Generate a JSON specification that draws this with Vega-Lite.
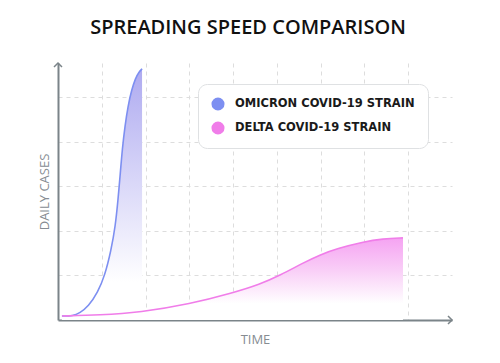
{
  "$schema": "https://vega.github.io/schema/vega-lite/v6.json",
  "width": 394,
  "height": 257,
  "autosize": {"type": "none"},
  "padding": {"left": 58, "top": 63, "right": 48, "bottom": 43},
  "background": "white",
  "title": {
    "text": "SPREADING SPEED COMPARISON",
    "font": "Open Sans",
    "fontSize": 20,
    "fontWeight": 600,
    "color": "#111111",
    "anchor": "middle",
    "dx": -7,
    "offset": 22
  },
  "config": {
    "view": {"stroke": null},
    "axis": {"labels": false, "ticks": false, "domainColor": "#7b8489", "domainWidth": 2, "gridColor": "#dddddd", "gridDash": [4, 4], "gridWidth": 1, "titleFont": "Open Sans", "titleFontWeight": 400, "titleFontSize": 13, "titleColor": "#868c92"}
  },
  "datasets": {
    "curves": [
      {"strain": "OMICRON COVID-19 STRAIN", "t": 0.09, "cases": 0.09},
      {"strain": "OMICRON COVID-19 STRAIN", "t": 0.34, "cases": 0.09},
      {"strain": "OMICRON COVID-19 STRAIN", "t": 0.5, "cases": 0.16},
      {"strain": "OMICRON COVID-19 STRAIN", "t": 0.69, "cases": 0.3},
      {"strain": "OMICRON COVID-19 STRAIN", "t": 0.91, "cases": 0.62},
      {"strain": "OMICRON COVID-19 STRAIN", "t": 1.07, "cases": 1.0},
      {"strain": "OMICRON COVID-19 STRAIN", "t": 1.21, "cases": 1.55},
      {"strain": "OMICRON COVID-19 STRAIN", "t": 1.31, "cases": 2.1},
      {"strain": "OMICRON COVID-19 STRAIN", "t": 1.37, "cases": 2.69},
      {"strain": "OMICRON COVID-19 STRAIN", "t": 1.42, "cases": 3.25},
      {"strain": "OMICRON COVID-19 STRAIN", "t": 1.47, "cases": 3.85},
      {"strain": "OMICRON COVID-19 STRAIN", "t": 1.53, "cases": 4.35},
      {"strain": "OMICRON COVID-19 STRAIN", "t": 1.6, "cases": 4.8},
      {"strain": "OMICRON COVID-19 STRAIN", "t": 1.68, "cases": 5.15},
      {"strain": "OMICRON COVID-19 STRAIN", "t": 1.77, "cases": 5.42},
      {"strain": "OMICRON COVID-19 STRAIN", "t": 1.85, "cases": 5.56},
      {"strain": "OMICRON COVID-19 STRAIN", "t": 1.92, "cases": 5.63},
      {"strain": "DELTA COVID-19 STRAIN", "t": 0.09, "cases": 0.09},
      {"strain": "DELTA COVID-19 STRAIN", "t": 0.96, "cases": 0.11},
      {"strain": "DELTA COVID-19 STRAIN", "t": 1.87, "cases": 0.17},
      {"strain": "DELTA COVID-19 STRAIN", "t": 3.02, "cases": 0.36},
      {"strain": "DELTA COVID-19 STRAIN", "t": 4.0, "cases": 0.61},
      {"strain": "DELTA COVID-19 STRAIN", "t": 4.61, "cases": 0.8},
      {"strain": "DELTA COVID-19 STRAIN", "t": 5.07, "cases": 1.0},
      {"strain": "DELTA COVID-19 STRAIN", "t": 5.6, "cases": 1.28},
      {"strain": "DELTA COVID-19 STRAIN", "t": 5.98, "cases": 1.46},
      {"strain": "DELTA COVID-19 STRAIN", "t": 6.37, "cases": 1.6},
      {"strain": "DELTA COVID-19 STRAIN", "t": 6.97, "cases": 1.75},
      {"strain": "DELTA COVID-19 STRAIN", "t": 7.42, "cases": 1.82},
      {"strain": "DELTA COVID-19 STRAIN", "t": 7.88, "cases": 1.84}
    ],
    "arrows": [
      {"dir": "up", "t": 0, "cases": 5.76},
      {"dir": "right", "t": 9, "cases": 0}
    ]
  },
  "layer": [
    {
      "data": {"name": "curves"},
      "transform": [{"filter": "datum.strain === 'OMICRON COVID-19 STRAIN'"}],
      "mark": {
        "type": "area",
        "interpolate": "basis",
        "fill": {"gradient": "linear", "x1": 0, "y1": 0, "x2": 0, "y2": 1, "stops": [
          {"offset": 0, "color": "#aeaaf0"},
          {"offset": 0.45, "color": "#d9d7f8"},
          {"offset": 0.85, "color": "#ffffff"}
        ]}
      },
      "encoding": {
        "x": {"field": "t", "type": "quantitative", "scale": {"domain": [0, 9], "nice": false, "zero": false},
          "axis": {"title": "TIME", "titlePadding": 13, "grid": true, "values": [1, 2, 3, 4, 5, 6, 7, 8]}},
        "y": {"field": "cases", "type": "quantitative", "scale": {"domain": [0, 5.76], "nice": false, "zero": false},
          "axis": {"title": "DAILY CASES", "titlePadding": 7, "grid": true, "values": [1, 2, 3, 4, 5]}}
      }
    },
    {
      "data": {"name": "curves"},
      "transform": [{"filter": "datum.strain === 'DELTA COVID-19 STRAIN'"}],
      "mark": {
        "type": "area",
        "interpolate": "basis",
        "fill": {"gradient": "linear", "x1": 0, "y1": 0, "x2": 0, "y2": 1, "stops": [
          {"offset": 0, "color": "#f5a3f2"},
          {"offset": 0.4, "color": "#f9cff7"},
          {"offset": 0.8, "color": "#ffffff"}
        ]}
      },
      "encoding": {
        "x": {"field": "t", "type": "quantitative"},
        "y": {"field": "cases", "type": "quantitative"}
      }
    },
    {
      "data": {"name": "curves"},
      "mark": {"type": "line", "interpolate": "basis", "strokeWidth": 1.6},
      "encoding": {
        "x": {"field": "t", "type": "quantitative"},
        "y": {"field": "cases", "type": "quantitative"},
        "color": {
          "field": "strain", "type": "nominal",
          "scale": {"domain": ["OMICRON COVID-19 STRAIN", "DELTA COVID-19 STRAIN"], "range": ["#7d8ff1", "#f07de9"]},
          "legend": {
            "title": null,
            "orient": "none",
            "legendX": 140,
            "legendY": 21,
            "direction": "vertical",
            "symbolType": "circle",
            "symbolSize": 170,
            "symbolStrokeWidth": 0,
            "labelFont": "DejaVu Sans",
            "labelFontSize": 11.5,
            "labelFontWeight": "bold",
            "labelColor": "#1a1a1a",
            "labelOffset": 10,
            "rowPadding": 10,
            "padding": 13,
            "strokeColor": "#dfe1e3",
            "fillColor": "#ffffff",
            "cornerRadius": 9,
            "labelLimit": 300,
            "encode": {"symbols": {"update": {"fill": {"scale": "color", "field": "value"}, "opacity": {"value": 1}}}}
          }
        }
      }
    },
    {
      "data": {"name": "arrows"},
      "transform": [{"filter": "datum.dir === 'up'"}],
      "mark": {"type": "point", "shape": "M-1,1L0,0L1,1", "size": 64, "filled": false, "stroke": "#7b8489", "strokeWidth": 1.5, "opacity": 1},
      "encoding": {
        "x": {"field": "t", "type": "quantitative"},
        "y": {"field": "cases", "type": "quantitative"}
      }
    },
    {
      "data": {"name": "arrows"},
      "transform": [{"filter": "datum.dir === 'right'"}],
      "mark": {"type": "point", "shape": "M-1,-1L0,0L-1,1", "size": 64, "filled": false, "stroke": "#7b8489", "strokeWidth": 1.5, "opacity": 1},
      "encoding": {
        "x": {"field": "t", "type": "quantitative"},
        "y": {"field": "cases", "type": "quantitative"}
      }
    }
  ]
}
